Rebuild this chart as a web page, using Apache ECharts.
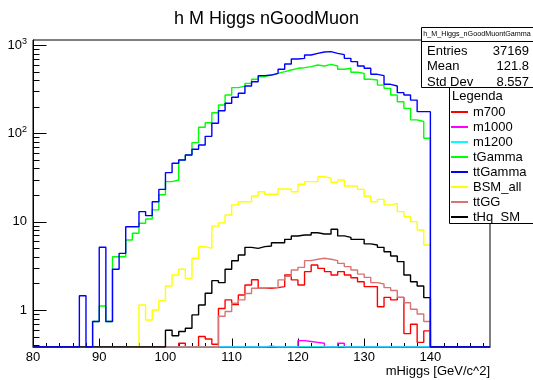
<!DOCTYPE html>
<html>
<head>
<meta charset="utf-8">
<script src="https://cdn.jsdelivr.net/npm/echarts@6/dist/echarts.min.js"></script>
<style>
  html, body { margin: 0; padding: 0; background: #fff; }
  #chart { width: 533px; height: 380px; }
</style>
</head>
<body>
<div id="chart"></div>
<script>
// mHiggs histograms, 1 GeV bins starting at 80 GeV (bins 80 ... 148)
const binStart = 80;
const binEnd = 149;

const m700 = [
  0, 0, 0, 0, 0, 0, 0, 0, 0, 0,
  0, 0, 0, 0, 0, 0, 0, 0, 0, 0,
  0, 0, 0.42, 0, 0, 0.50, 0.47, 0.41, 1.04, 1.30,
  1.15, 1.48, 1.92, 2.20, 1.76, 1.76, 1.79, 1.84, 2.49, 2.19,
  1.92, 2.72, 3.23, 2.96, 2.72, 2.49, 2.72, 2.49, 2.32, 2.09,
  1.84, 1.84, 1.09, 1.39, 1.30, 1.39, 0.54, 0.69, 0.43, 0.58,
  0, 0, 0, 0, 0, 0, 0, 0, 0
];
const m1000 = [
  0, 0, 0, 0, 0, 0, 0, 0, 0, 0,
  0, 0, 0, 0, 0, 0, 0, 0, 0, 0,
  0, 0, 0, 0, 0, 0, 0, 0, 0, 0,
  0, 0, 0, 0, 0, 0.39, 0, 0, 0, 0,
  0.45, 0.44, 0.43, 0.42, 0, 0, 0.42, 0, 0, 0,
  0, 0, 0, 0, 0, 0, 0, 0, 0, 0,
  0, 0, 0, 0, 0, 0, 0, 0, 0
];
const m1200 = [
  0, 0, 0, 0, 0, 0, 0, 0, 0, 0,
  0, 0, 0, 0, 0, 0, 0, 0, 0, 0,
  0, 0, 0, 0, 0, 0, 0, 0, 0, 0,
  0, 0, 0, 0, 0, 0, 0, 0, 0, 0,
  0, 0, 0, 0, 0, 0, 0, 0, 0, 0,
  0, 0, 0, 0, 0, 0, 0, 0, 0, 0,
  0, 0, 0, 0, 0, 0, 0, 0, 0
];
const tGamma = [
  0, 0, 0, 0, 0, 0, 0, 0, 0, 0.74,
  1.11, 0.74, 4.01, 4.01, 6.2, 7.38, 9.6, 10.7, 13.6, 20.2,
  28.4, 29.6, 49.9, 56.9, 78.5, 117, 132, 171, 209, 272,
  329, 343, 368, 409, 438, 457, 478, 499, 522, 545,
  554, 569, 594, 578, 604, 578, 531, 545, 491, 478,
  409, 402, 352, 323, 272, 228, 192, 142, 136, 88,
  0, 0, 0, 0, 0, 0, 0, 0, 0
];
const ttGamma = [
  0, 0, 0, 0, 0, 0, 0, 1.45, 0, 0.74,
  5.13, 0.74, 2.89, 4.38, 8.77, 8.77, 13.0, 11.7, 16.8, 23.2,
  35.9, 45.8, 49.9, 56.9, 66.0, 73.8, 92.5, 130, 180, 219,
  256, 284, 343, 384, 450, 457, 478, 531, 609, 695,
  707, 771, 805, 834, 841, 805, 778, 707, 648, 578,
  545, 466, 450, 359, 344, 289, 272, 238, 176, 176,
  0, 0, 0, 0, 0, 0, 0, 0, 0
];
const BSM_all = [
  0, 0, 0, 0, 0, 0, 0, 0, 0, 0,
  0, 0, 0, 0, 0, 0, 1.14, 0.77, 1.0, 1.28,
  1.87, 2.5, 2.89, 2.28, 3.85, 5.21, 4.99, 8.9, 9.7, 11.9,
  15.5, 16.8, 16.8, 19.5, 21.8, 20.4, 20.4, 23.4, 23.4, 21.8,
  26.5, 28.4, 28.4, 32.3, 31.0, 27.9, 29.6, 25.3, 25.3, 23.2,
  19.5, 16.8, 17.9, 15.5, 16.1, 13.0, 11.4, 10.0, 8.05, 5.44,
  0, 0, 0, 0, 0, 0, 0, 0, 0
];
const ttGG = [
  0, 0, 0, 0, 0, 0, 0, 0, 0, 0,
  0, 0, 0, 0, 0, 0, 0, 0, 0, 0,
  0, 0, 0, 0, 0, 0, 0, 0, 0.85, 0.96,
  1.19, 1.30, 1.54, 1.76, 1.76, 1.79, 1.79, 2.19, 2.40, 2.84,
  3.04, 3.62, 3.75, 3.85, 3.75, 3.62, 3.37, 3.10, 2.84, 2.55,
  2.34, 2.04, 1.97, 1.79, 1.66, 1.39, 1.21, 1.02, 0.90, 0.74,
  0, 0, 0, 0, 0, 0, 0, 0, 0
];
const tHq_SM = [
  0, 0, 0, 0, 0, 0, 0, 0, 0, 0,
  0, 0, 0, 0, 0, 0, 0, 0, 0, 0,
  0.59, 0.51, 0.57, 0.62, 0.88, 1.14, 1.55, 2.15, 2.04, 2.89,
  3.61, 4.2, 5.12, 4.99, 5.21, 5.3, 5.78, 5.78, 6.31, 6.89,
  7.07, 7.07, 7.5, 7.25, 7.25, 8.2, 6.9, 6.65, 6.3, 6.3,
  5.6, 5.44, 5.12, 4.57, 4.09, 3.53, 2.49, 2.09, 1.87, 1.38,
  0, 0, 0, 0, 0, 0, 0, 0, 0
];

// x-axis tick labels and the log-axis range
const xLabels = [80, 90, 100, 110, 120, 130, 140];
const yMin = 0.381;
const yMax = 1140;

const statsTitle = 'h_M_Higgs_nGoodMuontGamma';
const statsRows = [['Entries', '37169'], ['Mean', '121.8'], ['Std Dev', '8.557']];

const FONT = '"Liberation Sans", Arial, Helvetica, sans-serif';

// histogram outline: one point per bin low edge, plus the closing upper edge;
// empty bins sit on the bottom of the frame like in a log-scale ROOT plot
function histPoints(vals) {
  const pts = vals.map((v, i) => [binStart + i, Math.max(v, yMin)]);
  pts.push([binStart + vals.length, Math.max(vals[vals.length - 1], yMin)]);
  return pts;
}

// series in drawing order (later ones on top), with their colours
const histDefs = [
  { name: 'm1000', data: m1000, color: '#ff00ff' },
  { name: 'm700', data: m700, color: '#ff0000' },
  { name: 'BSM_all', data: BSM_all, color: '#ffff00' },
  { name: 'tGamma', data: tGamma, color: '#00ff00' },
  { name: 'm1200', data: m1200, color: '#00ffff' },
  { name: 'ttGG', data: ttGG, color: '#d97474' },
  { name: 'tHq_SM', data: tHq_SM, color: '#000000' },
  { name: 'ttGamma', data: ttGamma, color: '#0000ff' }
];
const legendOrder = ['m700', 'm1000', 'm1200', 'tGamma', 'ttGamma', 'BSM_all', 'ttGG', 'tHq_SM'];

// tick positions for the frame: every 2 GeV on x, 1..9 x 10^k on the log y axis
const xTicks = [];
for (let x = binStart; x < binEnd; x += 2) xTicks.push([x, yMin]);
const yTicks = [];
for (let e = -1; e <= 3; e++) {
  for (let m = 1; m <= 9; m++) {
    const v = m * Math.pow(10, e);
    if (v >= yMin && v <= yMax) yTicks.push([binStart, v, m === 1 ? 1 : 0]);
  }
}

const chart = echarts.init(document.getElementById('chart'), null, { renderer: 'canvas' });

const series = histDefs.map(d => ({
  name: d.name,
  type: 'line',
  step: 'end',
  data: histPoints(d.data),
  showSymbol: false,
  symbol: 'none',
  color: d.color,
  lineStyle: { color: d.color, width: 1.4 },
  emphasis: { disabled: true },
  animation: false,
  silent: true
}));

series.push({
  type: 'custom',
  name: 'xticks',
  data: xTicks,
  silent: true,
  animation: false,
  clip: false,
  z: 3,
  encode: { x: 0, y: 1 },
  renderItem: (params, api) => {
    const x = api.value(0);
    const p = api.coord([x, yMin]);
    const len = (x % 10 === 0) ? 8.5 : 4;
    const px = Math.round(p[0]) + 0.5;
    return { type: 'line', shape: { x1: px, y1: p[1], x2: px, y2: p[1] - len },
             style: { stroke: '#000', lineWidth: 1 } };
  }
});
series.push({
  type: 'custom',
  name: 'yticks',
  data: yTicks,
  silent: true,
  animation: false,
  clip: false,
  z: 3,
  encode: { x: 0, y: 1 },
  renderItem: (params, api) => {
    const p = api.coord([api.value(0), api.value(1)]);
    const len = api.value(2) ? 13.5 : 6.5;
    const py = Math.round(p[1]) + 0.5;
    return { type: 'line', shape: { x1: p[0], y1: py, x2: p[0] + len, y2: py },
             style: { stroke: '#000', lineWidth: 1 } };
  }
});

const graphics = [
  // statistics box
  { type: 'rect', z: 20, shape: { x: 421.5, y: 27.5, width: 120, height: 60 },
    style: { fill: '#fff', stroke: '#000', lineWidth: 1 } },
  { type: 'line', z: 21, shape: { x1: 421.5, y1: 41.5, x2: 540, y2: 41.5 },
    style: { stroke: '#000', lineWidth: 1 } },
  { type: 'text', z: 21, x: 477, y: 34.5,
    style: { text: statsTitle, fill: '#000', font: '7.2px ' + FONT, textAlign: 'center', textVerticalAlign: 'middle' } },
  // legend box and header
  { type: 'rect', z: 20, shape: { x: 449.5, y: 87.5, width: 100, height: 136 },
    style: { fill: '#fff', stroke: '#000', lineWidth: 1 } },
  { type: 'text', z: 21, x: 452, y: 96.5,
    style: { text: 'Legenda', fill: '#000', font: '13px ' + FONT, textAlign: 'left', textVerticalAlign: 'middle' } },
  // x-axis title, right-aligned with the frame
  { type: 'text', z: 21, x: 490, y: 371,
    style: { text: 'mHiggs [GeV/c^2]', fill: '#000', font: '13px ' + FONT, textAlign: 'right', textVerticalAlign: 'middle' } }
];
statsRows.forEach((row, i) => {
  const y = 51 + i * 15.5;
  graphics.push({ type: 'text', z: 21, x: 427, y,
    style: { text: row[0], fill: '#000', font: '13px ' + FONT, textAlign: 'left', textVerticalAlign: 'middle' } });
  graphics.push({ type: 'text', z: 21, x: 529, y,
    style: { text: row[1], fill: '#000', font: '13px ' + FONT, textAlign: 'right', textVerticalAlign: 'middle' } });
});

chart.setOption({
  animation: false,
  backgroundColor: '#fff',
  textStyle: { fontFamily: FONT },
  title: {
    text: 'h M Higgs nGoodMuon',
    left: 'center',
    top: 5,
    textStyle: { fontSize: 18, fontWeight: 'normal', color: '#000', fontFamily: FONT }
  },
  grid: {
    left: 33, top: 40, right: 43, bottom: 33,
    show: true, borderColor: '#000', borderWidth: 1, backgroundColor: 'transparent'
  },
  legend: {
    data: legendOrder,
    orient: 'vertical',
    left: 451,
    top: 104.5,
    padding: 0,
    itemGap: 0,
    itemWidth: 17,
    itemHeight: 2,
    icon: 'rect',
    selectedMode: false,
    z: 30,
    textStyle: { fontSize: 13, lineHeight: 15, color: '#000', fontFamily: FONT }
  },
  xAxis: {
    type: 'value',
    min: binStart,
    max: binEnd,
    interval: 10,
    axisLine: { show: true, lineStyle: { color: '#000', width: 1 } },
    axisTick: { show: false },
    splitLine: { show: false },
    axisLabel: {
      margin: 4,
      fontSize: 13,
      color: '#000',
      fontFamily: FONT,
      formatter: v => (xLabels.indexOf(v) >= 0 ? String(v) : '')
    }
  },
  yAxis: {
    type: 'log',
    logBase: 10,
    min: yMin,
    max: yMax,
    axisLine: { show: true, lineStyle: { color: '#000', width: 1 } },
    axisTick: { show: false },
    splitLine: { show: false },
    axisLabel: {
      margin: 6,
      color: '#000',
      fontFamily: FONT,
      formatter: v => {
        const e = Math.round(Math.log10(v));
        if (Math.abs(Math.log10(v) - e) > 1e-6) return '';
        if (e === 0) return '{b|1}';
        if (e === 1) return '{b|10}';
        return '{b|10}{s|' + e + '}';
      },
      rich: {
        b: { fontSize: 13, lineHeight: 16, fontFamily: FONT, color: '#000' },
        s: { fontSize: 9, lineHeight: 9, verticalAlign: 'top', fontFamily: FONT, color: '#000' }
      }
    }
  },
  graphic: { elements: graphics },
  series
});
</script>
</body>
</html>
